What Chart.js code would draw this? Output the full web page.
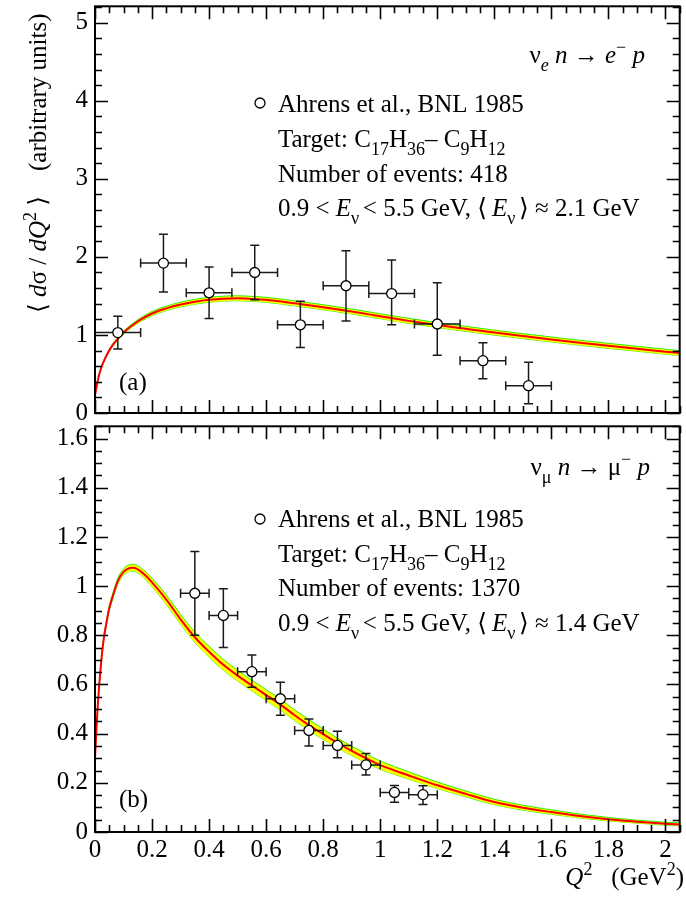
<!DOCTYPE html>
<html>
<head>
<meta charset="utf-8">
<script src="https://cdn.jsdelivr.net/npm/chart.js@4.4.1/dist/chart.umd.min.js"></script>
<style>
  html, body { margin: 0; padding: 0; background: #fff; }
  #wrap { position: relative; width: 686px; height: 898px; overflow: hidden; }
  canvas { position: absolute; left: 0; }
  #cA { top: 0; }
  #cB { top: 420px; }
</style>
</head>
<body>
<div id="wrap">
  <canvas id="cA" width="686" height="430"></canvas>
  <canvas id="cB" width="686" height="478"></canvas>
</div>
<script>
// ---------- panel (a): nu_e n -> e- p ----------
const q2BinsA   = [0.08, 0.24, 0.40, 0.56, 0.72, 0.88, 1.04, 1.20, 1.36, 1.52];
const q2HalfA   = [0.08, 0.08, 0.08, 0.08, 0.08, 0.08, 0.08, 0.08, 0.08, 0.08];
const sigmaA    = [1.03, 1.92, 1.54, 1.80, 1.13, 1.63, 1.53, 1.14, 0.67, 0.35];
const errUpA    = [0.21, 0.37, 0.33, 0.35, 0.30, 0.45, 0.43, 0.53, 0.23, 0.30];
const errDnA    = [0.21, 0.37, 0.33, 0.35, 0.29, 0.45, 0.40, 0.40, 0.23, 0.23];

const curveQ2A  = [0, 0.01, 0.02, 0.04, 0.06, 0.08, 0.10, 0.13, 0.16, 0.20, 0.25, 0.30, 0.35, 0.40, 0.45,
                   0.50, 0.55, 0.60, 0.70, 0.80, 0.90, 1.00, 1.10, 1.20, 1.30, 1.40, 1.50, 1.60, 1.70,
                   1.80, 1.90, 2.00, 2.05];
const curveA    = [0.23, 0.42, 0.56, 0.735, 0.86, 0.95, 1.03, 1.12, 1.195, 1.275, 1.34, 1.39, 1.425, 1.45, 1.465,
                   1.47, 1.462, 1.45, 1.405, 1.355, 1.30, 1.24, 1.18, 1.127, 1.078, 1.03, 0.985, 0.942, 0.90,
                   0.86, 0.823, 0.785, 0.768];
const bandA     = [0.004, 0.006, 0.008, 0.012, 0.015, 0.018, 0.020, 0.022, 0.024, 0.026, 0.028, 0.030, 0.031, 0.032, 0.032,
                   0.032, 0.032, 0.032, 0.032, 0.032, 0.032, 0.032, 0.032, 0.032, 0.032, 0.032, 0.032, 0.032, 0.032,
                   0.032, 0.032, 0.032, 0.032];

// ---------- panel (b): nu_mu n -> mu- p ----------
const q2BinsB   = [0.35, 0.45, 0.55, 0.65, 0.75, 0.85, 0.95, 1.05, 1.15];
const q2HalfB   = [0.05, 0.05, 0.05, 0.05, 0.05, 0.05, 0.05, 0.05, 0.05];
const sigmaB    = [0.971, 0.881, 0.652, 0.542, 0.413, 0.352, 0.273, 0.161, 0.152];
const errUpB    = [0.170, 0.108, 0.068, 0.067, 0.047, 0.058, 0.046, 0.028, 0.036];
const errDnB    = [0.171, 0.131, 0.063, 0.067, 0.063, 0.050, 0.041, 0.040, 0.040];

const curveQ2B  = [0, 0.005, 0.01, 0.02, 0.03, 0.04, 0.05, 0.06, 0.08, 0.10, 0.12, 0.13, 0.14, 0.16, 0.18,
                   0.20, 0.25, 0.30, 0.35, 0.40, 0.45, 0.50, 0.55, 0.60, 0.65, 0.70, 0.75, 0.80, 0.85,
                   0.90, 0.95, 1.00, 1.10, 1.20, 1.30, 1.40, 1.50, 1.60, 1.70, 1.80, 1.90, 2.00, 2.05];
const curveB    = [0.30, 0.42, 0.52, 0.67, 0.78, 0.85, 0.91, 0.95, 1.02, 1.058, 1.073, 1.075, 1.074, 1.06, 1.04,
                   1.015, 0.945, 0.865, 0.792, 0.733, 0.68, 0.636, 0.596, 0.557, 0.518, 0.475, 0.435, 0.398, 0.362,
                   0.330, 0.300, 0.272, 0.230, 0.190, 0.155, 0.122, 0.099, 0.081, 0.065, 0.052, 0.042, 0.034, 0.031];
const bandB     = [0.003, 0.004, 0.005, 0.007, 0.008, 0.009, 0.010, 0.011, 0.012, 0.013, 0.014, 0.014, 0.014, 0.015, 0.016,
                   0.017, 0.019, 0.020, 0.021, 0.022, 0.022, 0.022, 0.022, 0.022, 0.022, 0.022, 0.022, 0.021, 0.020,
                   0.019, 0.018, 0.017, 0.015, 0.013, 0.012, 0.011, 0.010, 0.009, 0.008, 0.007, 0.006, 0.006, 0.006];

// ---------- axes ----------
const xTickLabels  = ['0', '0.2', '0.4', '0.6', '0.8', '1', '1.2', '1.4', '1.6', '1.8', '2'];
const yTickLabelsA = ['0', '1', '2', '3', '4', '5'];
const yTickLabelsB = ['0', '0.2', '0.4', '0.6', '0.8', '1', '1.2', '1.4', '1.6'];
const Q2_MAX = 2.05, YA_MAX = 5.21, YB_MAX = 1.65;

const SERIF = '"Liberation Serif", "Times New Roman", "DejaVu Serif", serif';
const FS = 25;

// ---------- rich text helper (italics, sub- and superscripts) ----------
function segFont(style, size) {
  const small = style.includes('b') || style.includes('p');
  const s = small ? Math.round(size * 0.7) : size;
  return (style.includes('i') ? 'italic ' : '') + s + 'px ' + SERIF;
}
function richWidth(ctx, segs, size) {
  let w = 0;
  for (const [t, st = ''] of segs) { ctx.font = segFont(st, size); w += ctx.measureText(t).width; }
  return w;
}
function drawRich(ctx, segs, x, y, align, size) {
  let cx = align === 'right' ? x - richWidth(ctx, segs, size) : x;
  ctx.textAlign = 'left';
  ctx.textBaseline = 'alphabetic';
  ctx.fillStyle = '#000';
  for (const [t, st = ''] of segs) {
    ctx.font = segFont(st, size);
    const dy = st.includes('b') ? size * 0.3 : st.includes('p') ? -size * 0.42 : 0;
    ctx.fillText(t, cx, y + dy);
    cx += ctx.measureText(t).width;
  }
}

const richText = {
  id: 'richText',
  afterDraw(chart, args, opts) {
    const ctx = chart.ctx;
    ctx.save();
    for (const m of (opts.markers || [])) {
      ctx.beginPath();
      ctx.arc(m.x, m.y, 5, 0, Math.PI * 2);
      ctx.fillStyle = '#fff'; ctx.fill();
      ctx.lineWidth = 1.3; ctx.strokeStyle = '#000'; ctx.stroke();
    }
    for (const it of (opts.items || [])) {
      if (it.rotate) {
        ctx.save();
        ctx.translate(it.x, it.y);
        ctx.rotate(-Math.PI / 2);
        drawRich(ctx, it.segs, 0, 0, it.align, FS);
        ctx.restore();
      } else {
        drawRich(ctx, it.segs, it.x, it.y, it.align, FS);
      }
    }
    ctx.restore();
  }
};

// ---------- frame and inward ticks on all four sides ----------
const axisFrame = {
  id: 'axisFrame',
  afterDatasetsDraw(chart, args, opts) {
    const {ctx, chartArea: a, scales: {x, y}} = chart;
    ctx.save();
    ctx.strokeStyle = '#000';
    ctx.lineWidth = 1.6;
    const MAJ = 13, MIN = 7;
    const xMajor = xTickLabels.map(Number);
    const yMajor = opts.yMajor.map(Number);
    ctx.beginPath();
    for (let k = 0; k * 0.05 <= x.max + 1e-9; k++) {
      const v = k * 0.05;
      const isMaj = xMajor.some(m => Math.abs(m - v) < 1e-6);
      const px = Math.round(x.getPixelForValue(v)) + 0.5;
      const len = isMaj ? MAJ : MIN;
      ctx.moveTo(px, a.bottom); ctx.lineTo(px, a.bottom - len);
      ctx.moveTo(px, a.top); ctx.lineTo(px, a.top + len);
    }
    for (let k = 0; k * opts.yMinor <= y.max + 1e-9; k++) {
      const v = k * opts.yMinor;
      const isMaj = yMajor.some(m => Math.abs(m - v) < 1e-6);
      const py = Math.round(y.getPixelForValue(v)) + 0.5;
      const len = isMaj ? MAJ : MIN;
      ctx.moveTo(a.left, py); ctx.lineTo(a.left + len, py);
      ctx.moveTo(a.right, py); ctx.lineTo(a.right - len, py);
    }
    ctx.stroke();
    ctx.lineWidth = 2;
    ctx.strokeRect(a.left, a.top, a.right - a.left, a.bottom - a.top);
    ctx.restore();
  }
};

// ---------- error bars drawn just before the data markers ----------
const errorBars = {
  id: 'errorBars',
  beforeDatasetDraw(chart, args) {
    const ds = chart.data.datasets[args.index];
    if (!ds.errX) return;
    const {ctx, scales: {x, y}} = chart;
    const CAP = 4.5;
    ctx.save();
    ctx.strokeStyle = '#1a1a1a';
    ctx.lineWidth = 1.5;
    ctx.beginPath();
    ds.data.forEach((p, i) => {
      const px = x.getPixelForValue(p.x), py = y.getPixelForValue(p.y);
      const xl = x.getPixelForValue(p.x - ds.errX[i]), xr = x.getPixelForValue(p.x + ds.errX[i]);
      const yt = y.getPixelForValue(p.y + ds.errUp[i]), yb = y.getPixelForValue(p.y - ds.errDn[i]);
      ctx.moveTo(xl, py); ctx.lineTo(xr, py);
      ctx.moveTo(xl, py - CAP); ctx.lineTo(xl, py + CAP);
      ctx.moveTo(xr, py - CAP); ctx.lineTo(xr, py + CAP);
      ctx.moveTo(px, yt); ctx.lineTo(px, yb);
      ctx.moveTo(px - CAP, yt); ctx.lineTo(px + CAP, yt);
      ctx.moveTo(px - CAP, yb); ctx.lineTo(px + CAP, yb);
    });
    ctx.stroke();
    ctx.restore();
  }
};

function pts(xs, ys) { return xs.map((v, i) => ({x: v, y: ys[i]})); }
function shifted(xs, ys, hw, sign) { return xs.map((v, i) => ({x: v, y: ys[i] + sign * hw[i]})); }

function datasets(bins, half, sig, up, dn, cx, cy, hw) {
  return [
    { label: 'data', data: pts(bins, sig), showLine: false, order: 0,
      errX: half, errUp: up, errDn: dn,
      pointRadius: 5, pointHoverRadius: 5, pointBackgroundColor: '#fff',
      pointBorderColor: '#000', pointBorderWidth: 1.3 },
    { label: 'model', data: pts(cx, cy), order: 1, borderColor: '#ff0000', borderWidth: 2,
      pointRadius: 0, cubicInterpolationMode: 'monotone', fill: false },
    { label: 'band+', data: shifted(cx, cy, hw, 1), order: 2, borderColor: '#33ee00', borderWidth: 1,
      backgroundColor: '#ffff00', pointRadius: 0, cubicInterpolationMode: 'monotone', fill: '+1' },
    { label: 'band-', data: shifted(cx, cy, hw, -1), order: 2, borderColor: '#33ee00', borderWidth: 1,
      pointRadius: 0, cubicInterpolationMode: 'monotone', fill: false }
  ];
}

function scales(yMax, yLabels, showX, xHeight) {
  return {
    x: {
      type: 'linear', min: 0, max: Q2_MAX,
      grid: { display: false, drawTicks: false }, border: { display: false },
      afterBuildTicks: s => { s.ticks = xTickLabels.map(v => ({value: Number(v)})); },
      ticks: { display: showX, padding: 3, autoSkip: false, maxRotation: 0, color: '#000',
               font: { family: SERIF, size: FS }, callback: (v, i) => xTickLabels[i] },
      afterFit: s => { s.height = xHeight; s.paddingLeft = 0; s.paddingRight = 0; }
    },
    y: {
      type: 'linear', min: 0, max: yMax,
      grid: { display: false, drawTicks: false }, border: { display: false },
      afterBuildTicks: s => { s.ticks = yLabels.map(v => ({value: Number(v)})); },
      ticks: { padding: 7, autoSkip: false, color: '#000',
               font: { family: SERIF, size: FS }, callback: (v, i) => yLabels[i] },
      afterFit: s => { s.width = 95; s.paddingTop = 0; s.paddingBottom = 0; }
    }
  };
}

const common = {
  responsive: false, animation: false, devicePixelRatio: 1,
  events: [],
  elements: { line: { tension: 0 } }
};

// energy-range line of the annotation block
function energyLine(mean) {
  return [['0.9 < '], ['E', 'i'], ['ν\u2009', 'b'], ['< 5.5 GeV, ⟨\u2009'], ['E', 'i'], ['ν\u2009', 'b'],
          ['⟩ ≈ ' + mean + ' GeV']];
}
const targetLine = [['Target: C'], ['17', 'b'], ['H'], ['36', 'b'], ['– C'], ['9', 'b'], ['H'], ['12', 'b']];

new Chart(document.getElementById('cA'), {
  type: 'line',
  data: { datasets: datasets(q2BinsA, q2HalfA, sigmaA, errUpA, errDnA, curveQ2A, curveA, bandA) },
  plugins: [errorBars, axisFrame, richText],
  options: Object.assign({}, common, {
    layout: { padding: { top: 6, right: 2, bottom: 0, left: 0 } },
    scales: scales(YA_MAX, yTickLabelsA, false, 17),
    plugins: {
      legend: { display: false }, tooltip: { enabled: false },
      axisFrame: { yMajor: yTickLabelsA, yMinor: 0.2 },
      richText: {
        markers: [{ x: 260, y: 103 }],
        items: [
          { x: 645, y: 63, align: 'right',
            segs: [['ν'], ['e', 'ib'], [' '], ['n', 'i'], [' → '], ['e', 'i'], ['−', 'p'], [' '], ['p', 'i']] },
          { x: 278, y: 112, segs: [['Ahrens et al., BNL 1985']] },
          { x: 278, y: 147, segs: targetLine },
          { x: 278, y: 182, segs: [['Number of events: 418']] },
          { x: 278, y: 216, segs: energyLine('2.1') },
          { x: 119, y: 390, segs: [['(a)']] },
          { x: 46, y: 313, rotate: true,
            segs: [['⟨ '], ['d', 'i'], ['σ / '], ['dQ', 'i'], ['2', 'p'], [' ⟩    (arbitrary units)']] }
        ]
      }
    }
  })
});

new Chart(document.getElementById('cB'), {
  type: 'line',
  data: { datasets: datasets(q2BinsB, q2HalfB, sigmaB, errUpB, errDnB, curveQ2B, curveB, bandB) },
  plugins: [errorBars, axisFrame, richText],
  options: Object.assign({}, common, {
    layout: { padding: { top: 3, right: 2, bottom: 0, left: 0 } },
    scales: scales(YB_MAX, yTickLabelsB, true, 66),
    plugins: {
      legend: { display: false }, tooltip: { enabled: false },
      axisFrame: { yMajor: yTickLabelsB, yMinor: 0.05 },
      richText: {
        markers: [{ x: 260, y: 99 }],
        items: [
          { x: 650, y: 55, align: 'right',
            segs: [['ν'], ['μ', 'b'], [' '], ['n', 'i'], [' → μ'], ['−', 'p'], [' '], ['p', 'i']] },
          { x: 278, y: 107, segs: [['Ahrens et al., BNL 1985']] },
          { x: 278, y: 142, segs: targetLine },
          { x: 278, y: 176, segs: [['Number of events: 1370']] },
          { x: 278, y: 211, segs: energyLine('1.4') },
          { x: 119, y: 387, segs: [['(b)']] },
          { x: 684, y: 465, align: 'right', segs: [['Q', 'i'], ['2', 'p'], ['   (GeV'], ['2', 'p'], [')']] }
        ]
      }
    }
  })
});
</script>
</body>
</html>
